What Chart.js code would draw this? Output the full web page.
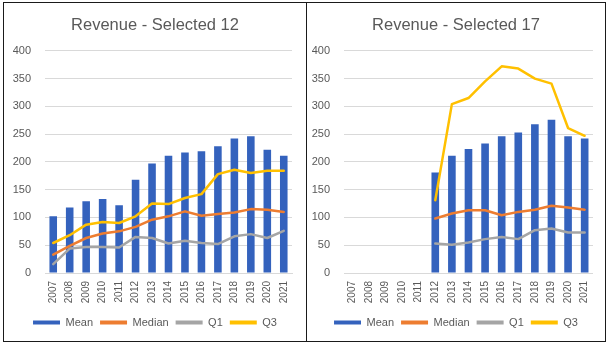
<!DOCTYPE html>
<html>
<head>
<meta charset="utf-8">
<script src="https://cdn.jsdelivr.net/npm/chart.js@4.4.1/dist/chart.umd.min.js"></script>
<style>
  body { margin: 0; background: #fff; }
  .frame { position: absolute; left: 3px; top: 2px; width: 601px; height: 338px; border: 1px solid #1a1a1a; }
  .divider { position: absolute; left: 306px; top: 2px; width: 1px; height: 340px; background: #1a1a1a; }
  canvas { position: absolute; top: 3px; }
  #chart12 { left: 4px; }
  #chart17 { left: 307px; }
</style>
</head>
<body>
<div class="frame"></div>
<div class="divider"></div>
<canvas id="chart12" width="302" height="338"></canvas>
<canvas id="chart17" width="298" height="338"></canvas>
<script>
const years = ['2007', '2008', '2009', '2010', '2011', '2012', '2013', '2014', '2015', '2016', '2017', '2018', '2019', '2020', '2021'];
const yTicks = [0, 50, 100, 150, 200, 250, 300, 350, 400];

// Selected 12
const mean12 = [102, 118, 129, 133, 122, 168, 197, 211, 217, 219, 228, 242, 246, 222, 211];
const median12 = [33, 49, 63, 71, 75, 83, 96, 102, 111, 103, 106, 109, 115, 114, 110];
const q1_12 = [16, 44, 47, 47, 46, 65, 63, 53, 58, 54, 52, 66, 70, 63, 76];
const q3_12 = [54, 68, 87, 92, 90, 102, 125, 124, 135, 142, 178, 186, 180, 184, 184];

// Selected 17
const mean17 = [null, null, null, null, null, 181, 211, 223, 233, 246, 253, 268, 276, 246, 242];
const median17 = [null, null, null, null, null, 98, 107, 113, 113, 104, 110, 114, 121, 118, 114];
const q1_17 = [null, null, null, null, null, 53, 51, 55, 61, 65, 61, 77, 80, 73, 73];
const q3_17 = [null, null, null, null, null, 131, 304, 315, 345, 372, 368, 350, 341, 261, 247];

const colors = { mean: '#3462bd', median: '#ed7d31', q1: '#a5a5a5', q3: '#ffc000' };
const textColor = '#595959';
const gridColor = '#d9d9d9';
const fontFamily = '"Liberation Sans", Arial, sans-serif';

function lineSet(label, data, color) {
    return {
        type: 'line',
        label: label,
        data: data,
        borderColor: color,
        backgroundColor: color,
        borderWidth: 2.5,
        pointRadius: 0,
        tension: 0,
        borderJoinStyle: 'round',
        borderCapStyle: 'round',
        spanGaps: false,
        order: 0
    };
}

function makeChart(id, title, mean, median, q1, q3, axisWidth, padRight) {
    const ctx = document.getElementById(id).getContext('2d');
    return new Chart(ctx, {
        type: 'bar',
        data: {
            labels: years,
            datasets: [
                {
                    label: 'Mean',
                    data: mean,
                    backgroundColor: colors.mean,
                    borderWidth: 0,
                    categoryPercentage: 1,
                    barPercentage: 0.46,
                    order: 1
                },
                lineSet('Median', median, colors.median),
                lineSet('Q1', q1, colors.q1),
                lineSet('Q3', q3, colors.q3)
            ]
        },
        options: {
            responsive: false,
            animation: false,
            layout: { padding: { top: 0, right: 0, bottom: 3, left: 0 } },
            scales: {
                x: {
                    grid: { display: false, drawTicks: false },
                    border: { color: gridColor },
                    ticks: {
                        color: textColor,
                        font: { family: fontFamily, size: 10 },
                        minRotation: 90,
                        maxRotation: 90,
                        padding: 8,
                        autoSkip: false
                    },
                    afterFit: function (scale) { scale.height = 37; }
                },
                y: {
                    min: 0,
                    max: 400,
                    afterBuildTicks: function (scale) {
                        scale.ticks = yTicks.map(v => ({ value: v }));
                    },
                    grid: { color: gridColor, drawTicks: false },
                    border: { display: false },
                    ticks: {
                        color: textColor,
                        font: { family: fontFamily, size: 11 },
                        padding: 14
                    },
                    afterFit: function (scale) { scale.width = axisWidth; }
                },
                // empty right-hand strip so the title and legend stay centred on the whole panel
                yRight: {
                    position: 'right',
                    min: 0,
                    max: 400,
                    grid: { display: false, drawTicks: false },
                    border: { display: false },
                    ticks: { display: false },
                    afterFit: function (scale) { scale.width = padRight; }
                }
            },
            plugins: {
                title: {
                    display: true,
                    text: title,
                    color: textColor,
                    font: { family: fontFamily, size: 16.5, weight: 'normal' },
                    padding: { top: 13, bottom: 15 }
                },
                legend: {
                    position: 'bottom',
                    labels: {
                        color: textColor,
                        font: { family: fontFamily, size: 11 },
                        boxWidth: 27,
                        boxHeight: 4,
                        padding: 7,
                        generateLabels: function (chart) {
                            return chart.data.datasets.map((ds, i) => ({
                                text: ds.label,
                                fillStyle: ds.type === 'line' ? ds.borderColor : ds.backgroundColor,
                                strokeStyle: ds.type === 'line' ? ds.borderColor : ds.backgroundColor,
                                lineWidth: 0,
                                fontColor: textColor,
                                hidden: false,
                                datasetIndex: i
                            }));
                        }
                    }
                },
                tooltip: { enabled: false }
            }
        }
    });
}

makeChart('chart12', 'Revenue - Selected 12', mean12, median12, q1_12, q3_12, 41, 14);
makeChart('chart17', 'Revenue - Selected 17', mean17, median17, q1_17, q3_17, 37, 10);
</script>
</body>
</html>
